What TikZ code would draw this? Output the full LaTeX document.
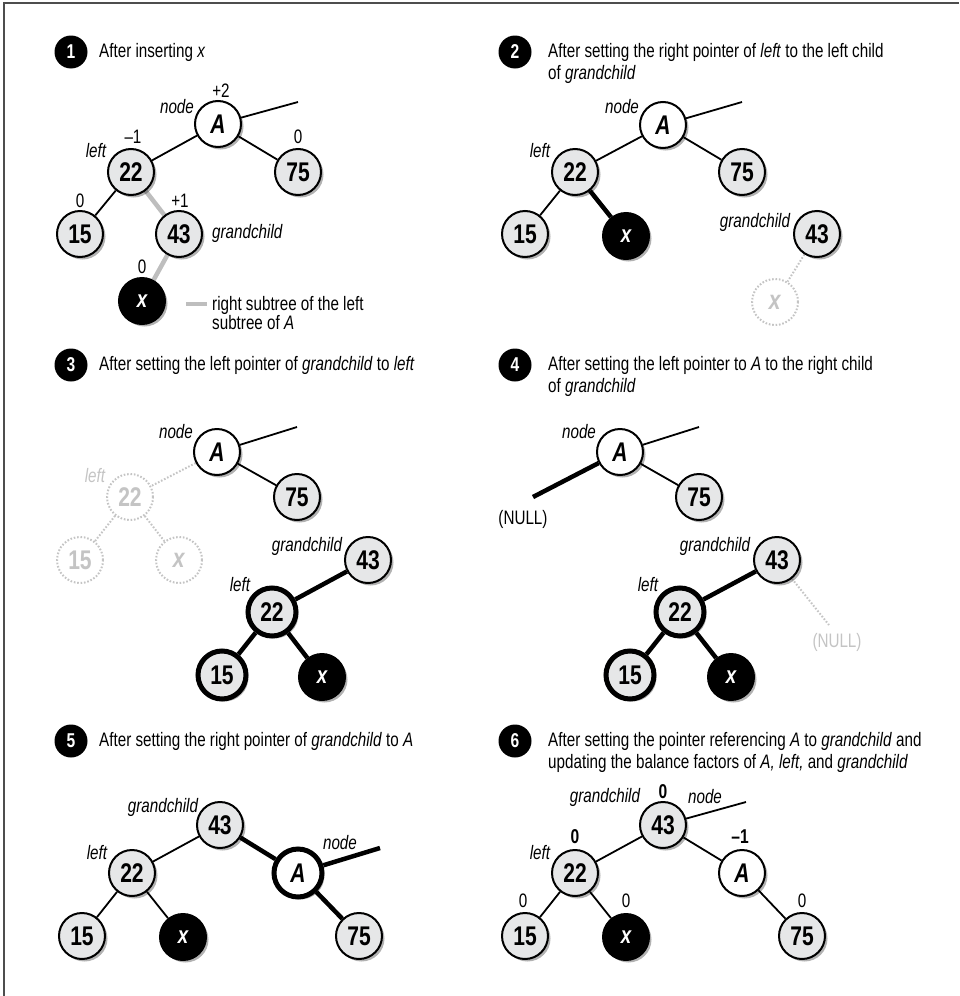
\documentclass[tikz,border=0pt]{standalone}
\usepackage{fontspec}
\setmainfont{Liberation Sans}[FakeStretch=0.78]
\usetikzlibrary{shadows}
\pgfdeclarelayer{background}
\pgfsetlayers{background,main}
\definecolor{ndgray}{HTML}{E6E7E8}
\definecolor{ghost}{HTML}{C4C4C4}
\definecolor{subgray}{HTML}{BEBEBE}
\definecolor{framegray}{HTML}{4D4D4D}
\newcommand{\myfs}[1]{\fontsize{#1}{#1}\selectfont}
\tikzset{
 tn/.style={circle, draw=black, line width=2pt, fill=ndgray, minimum size=46pt, inner sep=0pt,
   font=\bfseries\myfs{27},
   drop shadow={shadow xshift=2.5pt, shadow yshift=-2.5pt, opacity=0.3, fill=black}},
 tnA/.style={tn, fill=white, font=\bfseries\itshape\myfs{27}},
 tnX/.style={tn, fill=black, text=white, font=\bfseries\itshape\myfs{24}},
 heavy/.style={line width=5pt, minimum size=48pt},
 gn/.style={circle, draw=ghost, line width=2pt, dash pattern=on 1.6pt off 1.8pt, fill=white,
   text=ghost, minimum size=46pt, inner sep=0pt, font=\bfseries\myfs{27}},
 ed/.style={line width=1.8pt},
 hed/.style={line width=4.5pt},
 ged/.style={line width=2pt, draw=ghost, dash pattern=on 1.6pt off 1.8pt},
 sed/.style={line width=4.5pt, draw=subgray},
 lb/.style={font=\itshape\myfs{19.5}, inner sep=0pt},
 bfac/.style={font=\myfs{19.5}, inner sep=0pt},
 bbf/.style={font=\bfseries\myfs{20}, inner sep=0pt},
 badge/.style={circle, fill=black, minimum size=33pt, inner sep=0pt, text=white, font=\bfseries\myfs{20}},
 ttl/.style={anchor=west, align=left, font=\fontsize{19.5}{22}\selectfont, inner sep=0pt},
}
\begin{document}
\begin{tikzpicture}[x=1pt, y=-1pt]
\useasboundingbox (0,0) rectangle (959,996);
\draw[framegray, line width=2pt] (4,996) -- (4,3) -- (959,3);

% ---------------- Panel 1
\node[badge] (b1) at (71,52) {1};
\node[ttl] (t1) at (99,52) {After inserting \textit{x}};
\node[tnA] (p1A) at (218,124) {A};
\node[tn] (p1n22) at (131,172) {22};
\node[tn] (p1n75) at (298,172) {75};
\node[tn] (p1n15) at (80,234) {15};
\node[tn] (p1n43) at (179,234) {43};
\node[tnX] (p1x) at (142,301) {x};
\coordinate (p1up) at (298,102);
\node[bfac] (p1bA) at (221,91) {+2};
\node[lb] (p1lnode) at (177,107) {node};
\node[bfac] (p1b22) at (133,137) {–1};
\node[lb] (p1lleft) at (96,151) {left};
\node[bfac] (p1b75) at (298,137) {0};
\node[bfac] (p1b15) at (80,201) {0};
\node[bfac] (p1b43) at (180,201) {+1};
\node[lb, anchor=west] (p1lgc) at (212,233) {grandchild};
\node[bfac] (p1bx) at (142,267) {0};
\coordinate (lg1) at (186,304);
\coordinate (lg2) at (207,304);
\node[anchor=north west, align=left, font=\fontsize{19.5}{19}\selectfont, inner sep=0pt] (p1leg) at (212,296) {right subtree of the left\\subtree of \textit{A}};
\begin{pgfonlayer}{background}
\draw[ed] (p1A) -- (p1up);
\draw[ed] (p1A) -- (p1n22);
\draw[ed] (p1A) -- (p1n75);
\draw[ed] (p1n22) -- (p1n15);
\draw[sed] (p1n22) -- (p1n43);
\draw[sed] (p1n43) -- (p1x);
\draw[sed] (lg1) -- (lg2);
\end{pgfonlayer}

% ---------------- Panel 2
\node[badge] (b2) at (515,52) {2};
\node[ttl] (t2) at (548,63) {After setting the right pointer of \textit{left} to the left child\\of \textit{grandchild}};
\node[tnA] (p2A) at (663,125) {A};
\coordinate (p2up) at (742,102);
\node[tn] (p2n22) at (575,172) {22};
\node[tn] (p2n75) at (742,172) {75};
\node[tn] (p2n15) at (525,234) {15};
\node[tnX] (p2x) at (626,236) {x};
\node[tn] (p2n43) at (817,234) {43};
\node[gn] (p2gx) at (775,302) {\textit{x}};
\node[lb] (p2lnode) at (622,107) {node};
\node[lb] (p2lleft) at (540,151) {left};
\node[lb] (p2lgc) at (755,222) {grandchild};
\begin{pgfonlayer}{background}
\draw[ed] (p2A) -- (p2up);
\draw[ed] (p2A) -- (p2n22);
\draw[ed] (p2A) -- (p2n75);
\draw[ed] (p2n22) -- (p2n15);
\draw[hed] (p2n22) -- (p2x);
\draw[ged] (p2n43) -- (p2gx);
\end{pgfonlayer}

% ---------------- Panel 3
\node[badge] (b3) at (71,365) {3};
\node[ttl] (t3) at (99,365) {After setting the left pointer of \textit{grandchild} to \textit{left}};
\node[tnA] (p3A) at (217,452) {A};
\coordinate (p3up) at (297,427);
\node[tn] (p3n75) at (297,497) {75};
\node[gn] (p3g22) at (130,497) {22};
\node[gn] (p3g15) at (80,560) {15};
\node[gn] (p3gx) at (179,560) {\textit{x}};
\node[tn] (p3n43) at (368,560) {43};
\node[tn, heavy] (p3n22) at (272,612) {22};
\node[tn, heavy] (p3n15) at (222,675) {15};
\node[tnX] (p3x) at (322,677) {x};
\node[lb] (p3lnode) at (176,432) {node};
\node[lb, text=ghost] (p3lgleft) at (95,476) {left};
\node[lb] (p3lgc) at (307,546) {grandchild};
\node[lb] (p3lleft) at (240,585) {left};
\begin{pgfonlayer}{background}
\draw[ed] (p3A) -- (p3up);
\draw[ed] (p3A) -- (p3n75);
\draw[ged] (p3A) -- (p3g22);
\draw[ged] (p3g22) -- (p3g15);
\draw[ged] (p3g22) -- (p3gx);
\draw[hed] (p3n43) -- (p3n22);
\draw[hed] (p3n22) -- (p3n15);
\draw[hed] (p3n22) -- (p3x);
\end{pgfonlayer}

% ---------------- Panel 4
\node[badge] (b4) at (515,365) {4};
\node[ttl] (t4) at (548,376) {After setting the left pointer to \textit{A} to the right child\\of \textit{grandchild}};
\node[tnA] (p4A) at (620,452) {A};
\coordinate (p4up) at (699,427);
\coordinate (p4null) at (533,497);
\node[bfac] (p4nulltxt) at (523,519) {(NULL)};
\node[tn] (p4n75) at (699,497) {75};
\node[tn] (p4n43) at (777,560) {43};
\node[tn, heavy] (p4n22) at (680,612) {22};
\coordinate (p4gnull) at (829,625);
\node[bfac, text=ghost] (p4gnulltxt) at (837,642) {(NULL)};
\node[tn, heavy] (p4n15) at (630,675) {15};
\node[tnX] (p4x) at (731,677) {x};
\node[lb] (p4lnode) at (579,432) {node};
\node[lb] (p4lgc) at (715,546) {grandchild};
\node[lb] (p4lleft) at (648,585) {left};
\begin{pgfonlayer}{background}
\draw[ed] (p4A) -- (p4up);
\draw[hed] (p4A) -- (p4null);
\draw[ed] (p4A) -- (p4n75);
\draw[hed] (p4n43) -- (p4n22);
\draw[ged] (p4n43) -- (p4gnull);
\draw[hed] (p4n22) -- (p4n15);
\draw[hed] (p4n22) -- (p4x);
\end{pgfonlayer}

% ---------------- Panel 5
\node[badge] (b5) at (71,741) {5};
\node[ttl] (t5) at (99,741) {After setting the right pointer of \textit{grandchild} to \textit{A}};
\node[tn] (p5n43) at (220,825) {43};
\node[tn] (p5n22) at (132,873) {22};
\node[tnA, heavy] (p5A) at (298,873) {A};
\coordinate (p5up) at (380,848);
\node[tn] (p5n15) at (82,936) {15};
\node[tnX] (p5x) at (183,937) {x};
\node[tn] (p5n75) at (359,936) {75};
\node[lb] (p5lgc) at (163,807) {grandchild};
\node[lb] (p5lleft) at (97,853) {left};
\node[lb] (p5lnode) at (340,843) {node};
\begin{pgfonlayer}{background}
\draw[ed] (p5n43) -- (p5n22);
\draw[hed] (p5n43) -- (p5A);
\draw[hed] (p5A) -- (p5up);
\draw[hed] (p5A) -- (p5n75);
\draw[ed] (p5n22) -- (p5n15);
\draw[ed] (p5n22) -- (p5x);
\end{pgfonlayer}

% ---------------- Panel 6
\node[badge] (b6) at (515,741) {6};
\node[ttl] (t6) at (548,752) {After setting the pointer referencing \textit{A} to \textit{grandchild} and\\updating the balance factors of \textit{A, left,} and \textit{grandchild}};
\node[tn] (p6n43) at (663,825) {43};
\coordinate (p6up) at (746,802);
\node[tn] (p6n22) at (575,873) {22};
\node[tnA] (p6A) at (742,873) {A};
\node[tn] (p6n15) at (525,936) {15};
\node[tnX] (p6x) at (626,937) {x};
\node[tn] (p6n75) at (802,936) {75};
\node[lb] (p6lgc) at (605,797) {grandchild};
\node[lb] (p6lnode) at (705,797) {node};
\node[bbf] (p6b43) at (663,792) {0};
\node[bbf] (p6b22) at (575,837) {0};
\node[lb] (p6lleft) at (540,853) {left};
\node[bbf] (p6bA) at (740,837) {–1};
\node[bfac] (p6b15) at (523,901) {0};
\node[bfac] (p6bx) at (626,901) {0};
\node[bfac] (p6b75) at (802,901) {0};
\begin{pgfonlayer}{background}
\draw[ed] (p6n43) -- (p6up);
\draw[ed] (p6n43) -- (p6n22);
\draw[ed] (p6n43) -- (p6A);
\draw[ed] (p6n22) -- (p6n15);
\draw[ed] (p6n22) -- (p6x);
\draw[ed] (p6A) -- (p6n75);
\end{pgfonlayer}
\end{tikzpicture}
\end{document}
